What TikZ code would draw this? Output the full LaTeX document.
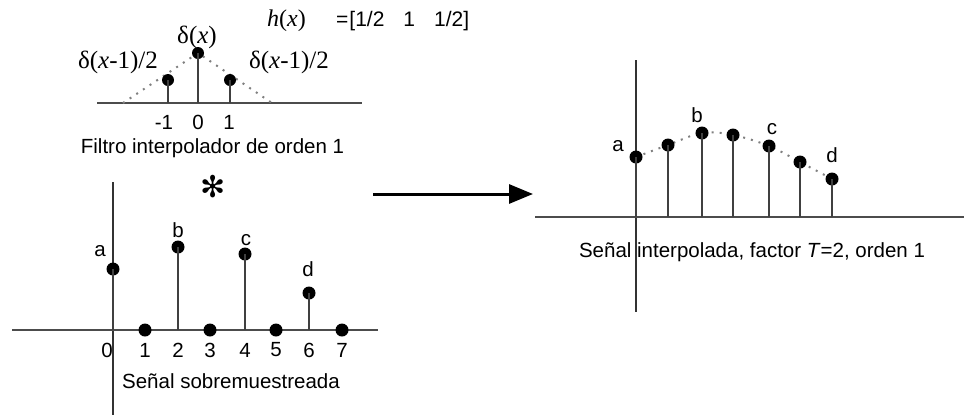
\documentclass[tikz,border=0pt]{standalone}
\usepackage{fontspec}
\setmainfont{Liberation Sans}
\newfontfamily\timesfont{Liberation Serif}
\newfontfamily\symfont{DejaVu Sans}
\usetikzlibrary{arrows.meta}

\begin{document}
\begin{tikzpicture}[x=1pt,y=-1pt,
  axis/.style={draw=black!70, line width=2pt},
  vaxis/.style={draw=black!80, line width=2pt},
  stem/.style={draw=black!75, line width=2.4pt},
  dot/.style={circle, fill=black, inner sep=0pt, minimum size=13pt},
  smalldot/.style={dot, minimum size=12pt},
  envelope/.style={draw=black!50, line width=2pt, dash pattern=on 2pt off 6pt},
  lbl/.style={font=\fontsize{20.5}{24}\selectfont, inner sep=0pt},
  delta/.style={font=\timesfont\fontsize{25}{30}\selectfont, inner sep=0pt},
  flow/.style={draw=black, line width=3pt, -{Triangle[length=24pt,width=19pt]}},
]
\useasboundingbox (0,0) rectangle (964,416);

% ---------- first-order interpolation filter ----------
\coordinate (fL) at (97,103);
\coordinate (fR) at (362,103);
\coordinate (tL) at (123,103);
\coordinate (tR) at (272,103);
\draw[axis] (fL) -- (fR);
\draw[envelope] (tL) -- (198,53) -- (tR);
\node[smalldot] (h0) at (198,53) {};
\node[smalldot] (hm) at (168,80) {};
\node[smalldot] (hp) at (230,80) {};
\foreach \p in {h0,hm,hp} \draw[stem] (\p.center) -- (\p |- fL);

\node[delta] (dc) at (197,37) {δ(\textit{x})};
\node[delta] (dl) at (118,62) {δ(\textit{x}-1)/2};
\node[delta] (dr) at (289,62) {δ(\textit{x}-1)/2};
\node[inner sep=0pt, anchor=base east, font=\timesfont\fontsize{24}{28}\selectfont] (hx) at (306,26) {\textit{h}(\textit{x})};
\node[inner sep=0pt, anchor=base west, font=\fontsize{21}{25}\selectfont] (hv) at (336,26)
  {=\hspace{1pt}[1/2\hspace{19pt}1\hspace{19pt}1/2]};

\node[lbl] (tm) at (164,122) {-1};
\node[lbl] (t0) at (198,122) {0};
\node[lbl] (tp) at (229,122) {1};
\node[lbl] (ftitle) at (212.5,148) {Filtro interpolador de orden 1};

% convolution sign
\node[inner sep=0pt, font=\symfont\fontsize{30}{36}\selectfont] (conv) at (213,187) {✻};

% ---------- upsampled signal ----------
\coordinate (uT) at (113,182);
\coordinate (uB) at (113,415);
\coordinate (uL) at (12,330);
\coordinate (uR) at (378,330);
\draw[vaxis] (uT) -- (uB);
\draw[axis] (uL) -- (uR);
\node[dot] (u0) at (113,269) {};
\node[dot] (u1) at (145,330) {};
\node[dot] (u2) at (178,247) {};
\node[dot] (u3) at (210,330) {};
\node[dot] (u4) at (245,254) {};
\node[dot] (u5) at (276,330) {};
\node[dot] (u6) at (309,293) {};
\node[dot] (u7) at (342,330) {};
\foreach \p in {u0,u2,u4,u6} \draw[stem] (\p.center) -- (\p |- uL);

\node[lbl] (ua) at (100,251) {a};
\node[lbl] (ub) at (178,230) {b};
\node[lbl] (uc) at (246,240) {c};
\node[lbl] (ud) at (308,269) {d};

\foreach \n/\x in {0/107,1/145,2/178,3/210,4/245,5/276,6/309,7/342}
  \node[lbl] (n\n) at (\x,350) {\n};
\node[lbl] (utitle) at (231,381) {Señal sobremuestreada};

% ---------- arrow ----------
\coordinate (aS) at (373,194);
\coordinate (aE) at (533,194);
\draw[flow] (aS) -- (aE);

% ---------- interpolated signal ----------
\coordinate (iT) at (636,60);
\coordinate (iB) at (636,312);
\coordinate (iL) at (535,217);
\coordinate (iR) at (964,217);
\draw[vaxis] (iT) -- (iB);
\draw[axis] (iL) -- (iR);
\draw[envelope] plot[smooth, tension=0.6] coordinates
  {(636,157) (668,145) (702,133) (733,135) (769,146) (800,162) (832,179)};
\node[dot] (r0) at (636,157) {};
\node[dot] (r1) at (668,145) {};
\node[dot] (r2) at (702,133) {};
\node[dot] (r3) at (733,135) {};
\node[dot] (r4) at (769,146) {};
\node[dot] (r5) at (800,162) {};
\node[dot] (r6) at (832,179) {};
\foreach \p in {r0,r1,r2,r3,r4,r5,r6} \draw[stem] (\p.center) -- (\p |- iL);

\node[lbl] (ra) at (618,146) {a};
\node[lbl] (rb) at (697,115) {b};
\node[lbl] (rc) at (772,129) {c};
\node[lbl] (rd) at (832,155) {d};
\node[lbl] (rtitle) at (752,252) {Señal interpolada, factor \textit{T}=2, orden 1};
\end{tikzpicture}
\end{document}
